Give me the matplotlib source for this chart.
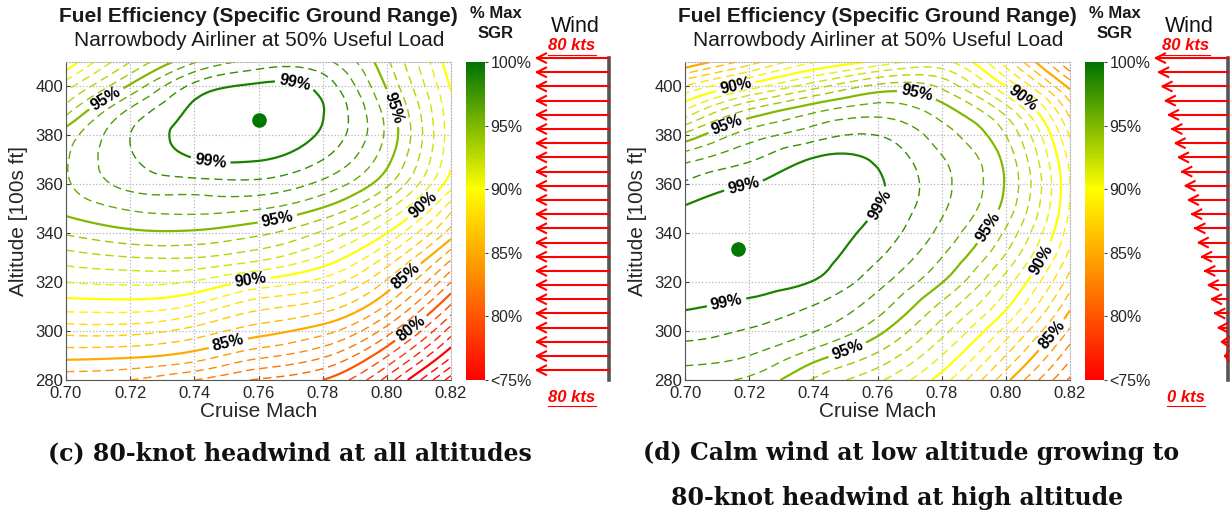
import numpy as np
import matplotlib
matplotlib.use('Agg')
import matplotlib.pyplot as plt
import matplotlib.tri as mtri
from matplotlib.colors import LinearSegmentedColormap, Normalize
from matplotlib.cm import ScalarMappable
from matplotlib.lines import Line2D

plt.rcParams['font.family'] = ['Liberation Sans', 'DejaVu Sans']

# grid of cruise Mach / altitude (100s ft) where SGR was read, in % of max
mach = [0.70, 0.72, 0.74, 0.76, 0.78, 0.80, 0.82]
altitude = [280, 290, 300, 310, 320, 330, 340, 350, 360, 370, 380, 390, 400, 410]

# (c) constant 80 kt headwind
sgr_headwind = [
    [83.3, 83.0, 82.0, 80.9, 80.0, 76.6, 71.5],
    [85.35, 85.2, 84.6, 83.3, 82.2, 79.1, 74.2],
    [87.35, 87.35, 86.6, 85.45, 84.4, 81.5, 76.5],
    [89.4, 89.45, 88.8, 87.3, 86.5, 83.8, 78.8],
    [91.0, 91.2, 90.9, 89.7, 88.6, 85.8, 81.0],
    [92.5, 92.95, 93.0, 92.3, 90.8, 87.8, 83.2],
    [94.1, 94.75, 94.8, 94.2, 92.8, 90.0, 85.5],
    [95.3, 96.1, 96.3, 96.05, 94.9, 92.2, 87.3],
    [95.85, 97.3, 97.6, 97.7, 96.7, 94.2, 89.4],
    [95.9, 97.85, 98.95, 99.05, 98.0, 95.3, 90.2],
    [95.5, 98.0, 99.4, 99.8, 98.8, 95.8, 90.4],
    [93.6, 97.2, 99.25, 99.95, 99.05, 95.6, 90.3],
    [91.6, 95.2, 98.3, 99.2, 98.6, 94.9, 89.9],
    [89.2, 93.0, 95.9, 97.4, 97.3, 94.2, 89.3],
]

# (d) calm at low altitude, 80 kt headwind at the top
sgr_shear = [
    [96.2, 95.8, 93.9, 92.2, 89.5, 85.3, 80.8],
    [97.5, 97.0, 95.5, 93.8, 91.0, 87.0, 82.3],
    [98.3, 97.9, 97.05, 95.3, 92.4, 88.6, 83.8],
    [99.1, 98.75, 97.95, 96.45, 93.7, 90.2, 85.2],
    [99.5, 99.4, 98.95, 97.35, 95.05, 91.5, 86.5],
    [99.65, 99.85, 99.4, 98.1, 96.0, 92.8, 87.6],
    [99.55, 99.9, 99.55, 98.6, 96.7, 93.8, 88.4],
    [99.1, 99.6, 99.55, 99.0, 97.15, 94.6, 88.9],
    [98.15, 99.0, 99.4, 99.15, 97.3, 94.9, 89.0],
    [96.75, 97.9, 99.1, 98.85, 97.1, 94.7, 88.7],
    [94.3, 96.5, 97.6, 98.0, 96.5, 94.0, 87.9],
    [91.1, 94.2, 95.8, 96.6, 95.5, 92.6, 86.6],
    [88.1, 90.5, 92.6, 94.3, 93.8, 90.0, 84.7],
    [84.0, 86.5, 88.9, 90.3, 91.3, 87.5, 82.0],
]

# max SGR point (Mach, altitude)
best_headwind = (0.760, 386.2)
best_shear = (0.7165, 333.5)

# wind profile arrows
wind_alt = [284.0, 289.8, 295.6, 301.4, 307.2, 313.0, 318.8, 324.6, 330.4, 336.2, 342.0, 347.8,
            353.6, 359.4, 365.2, 371.0, 376.8, 382.6, 388.4, 394.2, 400.0, 405.8, 411.6]
wind_headwind = [80, 80, 80, 80, 80, 80, 80, 80, 80, 80, 80, 80,
                 80, 80, 80, 80, 80, 80, 80, 80, 80, 80, 80]
wind_shear = [0.0, 3.6, 7.3, 10.9, 14.5, 18.2, 21.8, 25.5, 29.1, 32.7, 36.4, 40.0,
              43.6, 47.3, 50.9, 54.5, 58.2, 61.8, 65.5, 69.1, 72.7, 76.4, 80.0]

dashed_levels = [lv for lv in range(70, 100) if lv not in (75, 80, 85, 90, 95, 99)]
solid_levels = [75, 80, 85, 90, 95, 99]

label_pos_headwind = [(0.771, 399), (0.745, 369), (0.713, 394), (0.766, 345), (0.8025, 391.5),
                      (0.758, 317), (0.811, 352), (0.751, 293), (0.806, 322), (0.807, 302)]
label_pos_shear = [(0.716, 399), (0.7136, 382.5), (0.718, 361), (0.713, 311.5), (0.760, 352),
                   (0.772, 395.5), (0.805, 395), (0.7937, 343.5), (0.8116, 329), (0.8147, 298),
                   (0.7506, 292.3)]

W, H = 1230, 514
cmap = LinearSegmentedColormap.from_list(
    'sgr', [(0.0, (1, 0, 0)), (0.6, (1, 1, 0)), (1.0, (0, 0.45, 0))])
norm = Normalize(75, 100)
text_col = '#262626'


def box(left, top, width, height):
    return [left / W, 1 - (top + height) / H, width / W, height / H]


def ftext(x, y, s, **kw):
    return fig.text(x / W, 1 - y / H, s, ha='center', va='center', **kw)


def draw_map(ax, sgr, best, label_pos):
    mm, aa = np.meshgrid(mach, altitude)
    tri = mtri.Triangulation(mm.ravel(), aa.ravel())
    refiner = mtri.UniformTriRefiner(tri)
    tri_f, z_f = refiner.refine_field(np.array(sgr).ravel(), subdiv=3)

    ax.tricontour(tri_f, z_f, levels=dashed_levels,
                  colors=[cmap(norm(max(lv, 75))) for lv in dashed_levels],
                  linestyles=[(0, (6, 3.5))], linewidths=1.0)
    lv_solid = [lv for lv in solid_levels if z_f.min() < lv < z_f.max()]
    cs = ax.tricontour(tri_f, z_f, levels=lv_solid,
                       colors=[cmap(norm(lv)) for lv in lv_solid],
                       linestyles='solid', linewidths=1.6)
    labels = ax.clabel(cs, manual=label_pos, fmt='%d%%', colors='k', fontsize=11.5,
                       inline=True, inline_spacing=4)
    for t in labels:
        t.set_fontweight('bold')

    ax.plot(best[0], best[1], 'o', color=(0, 0.47, 0), ms=9.5, zorder=5)

    ax.set_xlim(0.70, 0.82)
    ax.set_ylim(280, 410)
    ax.set_xticks(mach)
    ax.set_xticklabels(['%.2f' % m for m in mach])
    ax.set_yticks([280, 300, 320, 340, 360, 380, 400])
    ax.tick_params(direction='in', length=3, labelsize=12, colors='#444444',
                   labelcolor=text_col)
    ax.tick_params(axis='x', pad=4.5)
    ax.tick_params(axis='y', pad=2)
    ax.grid(True, color='#b5b5b5', linestyle=':', linewidth=0.9)
    for side in ['top', 'right']:
        ax.spines[side].set_linestyle(':')
        ax.spines[side].set_color('#b5b5b5')
    for side in ['left', 'bottom']:
        ax.spines[side].set_color('#555555')
    ax.set_xlabel('Cruise Mach', fontsize=15, color=text_col)
    ax.set_ylabel('Altitude [100s ft]', fontsize=15, color=text_col)
    ax.xaxis.set_label_coords(0.5, -0.068)
    ax.yaxis.set_label_coords(-0.099, 0.5)


def draw_colorbar(cax):
    cb = fig.colorbar(ScalarMappable(norm=norm, cmap=cmap), cax=cax)
    cb.set_ticks([75, 80, 85, 90, 95, 100])
    cb.set_ticklabels(['<75%', '80%', '85%', '90%', '95%', '100%'])
    cb.outline.set_visible(False)
    cax.tick_params(length=2, labelsize=11.5, colors='#444444', labelcolor=text_col, pad=2)


def draw_wind(ax, speeds):
    ax.set_xlim(-92, 5)
    ax.set_ylim(280, 410)
    ax.axis('off')
    ax.plot([0, 0], [280, wind_alt[-1]], color='#555555', lw=2.6, clip_on=False)
    for a, s in zip(wind_alt, speeds):
        if s <= 0:
            continue
        head = min(10.0, s)
        ax.plot([0, -s], [a, a], color='red', lw=1.5, clip_on=False)
        ax.plot([-s + head, -s, -s + head], [a + 1.9, a, a - 1.9], color='red',
                lw=1.5, clip_on=False)


def kts_label(x, y, s):
    return ftext(x, y, s, color='red', fontsize=12, fontweight='bold', style='italic')


fig = plt.figure(figsize=(W / 100, H / 100), dpi=100)

panels = [
    (0, sgr_headwind, best_headwind, label_pos_headwind, wind_headwind, '80 kts', '80 kts', 575),
    (619, sgr_shear, best_shear, label_pos_shear, wind_shear, '80 kts', '0 kts', 1189),
]
kts_texts = []
for dx, sgr, best, lpos, wind, top_kts, bot_kts, wind_x in panels:
    ax = fig.add_axes(box(66 + dx, 62, 385, 318))
    draw_map(ax, sgr, best, lpos)
    cax = fig.add_axes(box(466 + dx, 62, 19, 318))
    draw_colorbar(cax)
    wax = fig.add_axes(box(526 + dx, 62, 88, 318))
    draw_wind(wax, wind)

    ftext(258 + dx, 17, 'Fuel Efficiency (Specific Ground Range)', fontsize=15,
          fontweight='bold', color='#1a1a1a')
    ftext(259 + dx, 40, 'Narrowbody Airliner at 50% Useful Load', fontsize=15,
          color='#1a1a1a')
    ftext(496 + dx, 14, '% Max', fontsize=12, fontweight='bold', color='#1a1a1a')
    ftext(496 + dx, 34, 'SGR', fontsize=12, fontweight='bold', color='#1a1a1a')
    ftext(wind_x, 27, 'Wind', fontsize=15.5, color='#111111')
    kts_x = wind_x - 3
    kts_texts.append(kts_label(kts_x, 46, top_kts))
    kts_texts.append(kts_label(kts_x, 397, bot_kts))

cap_font = dict(family=['DejaVu Serif'], fontsize=17, fontweight='bold', color='#111111')
ftext(290, 453, '(c) 80-knot headwind at all altitudes', **cap_font)
ftext(911, 453, '(d) Calm wind at low altitude growing to', **cap_font)
ftext(897, 498, '80-knot headwind at high altitude', **cap_font)

# underline the wind speed labels
fig.canvas.draw()
renderer = fig.canvas.get_renderer()
for t in kts_texts:
    bb = t.get_window_extent(renderer)
    y = bb.y0 - 1
    fig.add_artist(Line2D([bb.x0 / W, bb.x1 / W], [y / H, y / H], color='red', lw=0.8))

fig.savefig('out.png', dpi=100)
